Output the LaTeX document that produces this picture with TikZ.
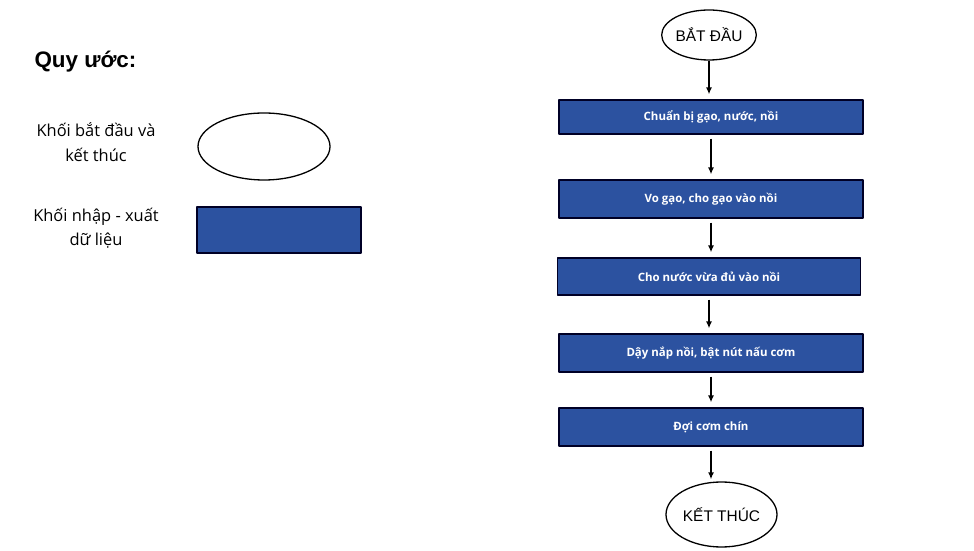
\documentclass[tikz,border=0pt]{standalone}
\usepackage{fontspec}
\setmainfont{Open Sans}
\newfontfamily\arialfont{Liberation Sans}
\usetikzlibrary{shapes.geometric,arrows.meta}
\definecolor{boxblue}{RGB}{44,82,160}
\begin{document}
\begin{tikzpicture}[>={Latex[length=7bp,width=6bp]},line join=bevel,
  stepbox/.style={draw=black!85!blue,line width=1.2bp,fill=boxblue,text=white,inner sep=0pt,
    minimum width=304bp,minimum height=38bp,font=\fontsize{11.5}{13}\selectfont\bfseries},
  termnode/.style={ellipse,draw,line width=1.3bp,inner sep=0pt,fill=white,
    font=\arialfont\fontsize{15.5}{17}\selectfont},
  flow/.style={black,->,line width=1.4bp,shorten >=5bp,shorten <=4bp}]
%%
\useasboundingbox (0bp,0bp) rectangle (974bp,551bp);
%
\node (quyuoc) at (31bp,489bp) [anchor=west,font=\arialfont\bfseries\fontsize{22.5}{25}\selectfont] {Quy ước:};
  \node (lbl_term) at (96bp,408.5bp) [align=center,font=\fontsize{16.5}{25}\selectfont] {Khối bắt đầu và\\kết thúc};
  \node (leg_term) at (264bp,404.5bp) [termnode,minimum width=132bp,minimum height=67bp] {};
  \node (lbl_io) at (96bp,323bp) [align=center,font=\fontsize{16.5}{24}\selectfont] {Khối nhập - xuất\\dữ liệu};
  \node (leg_io) at (279bp,321bp) [stepbox,minimum width=164bp,minimum height=46bp] {};
%
\node (start) at (709bp,516bp) [termnode,minimum width=94bp,minimum height=50bp] {BẮT ĐẦU};
  \node (box_1) at (711bp,434bp) [stepbox,minimum height=34bp] {Chuẩn bị gạo, nước, nồi};
  \node (box_2) at (711bp,352bp) [stepbox] {Vo gạo, cho gạo vào nồi};
  \node (box_3) at (709bp,274.5bp) [stepbox,minimum width=303bp,minimum height=37bp] {Cho nước vừa đủ vào nồi};
  \node (box_4) at (711bp,198bp) [stepbox] {Dậy nắp nồi, bật nút nấu cơm};
  \node (box_5) at (711bp,124bp) [stepbox] {Đợi cơm chín};
  \node (stop) at (721.5bp,36.5bp) [termnode,minimum width=111bp,minimum height=65bp] {KẾT THÚC};
%
\draw [flow,shorten <=0bp] (start.south) -- (start.south |- box_1.north);
  \draw [flow] (box_1.south) -- (box_1.south |- box_2.north);
  \draw [flow] (box_2.south) -- (box_2.south |- box_3.north);
  \draw [flow] (box_3.south) -- (box_3.south |- box_4.north);
  \draw [flow] (box_4.south) -- (box_4.south |- box_5.north);
  \draw [flow,shorten >=2bp] (box_5.south) -- (box_5.south |- stop.north);
%
\end{tikzpicture}
\end{document}
